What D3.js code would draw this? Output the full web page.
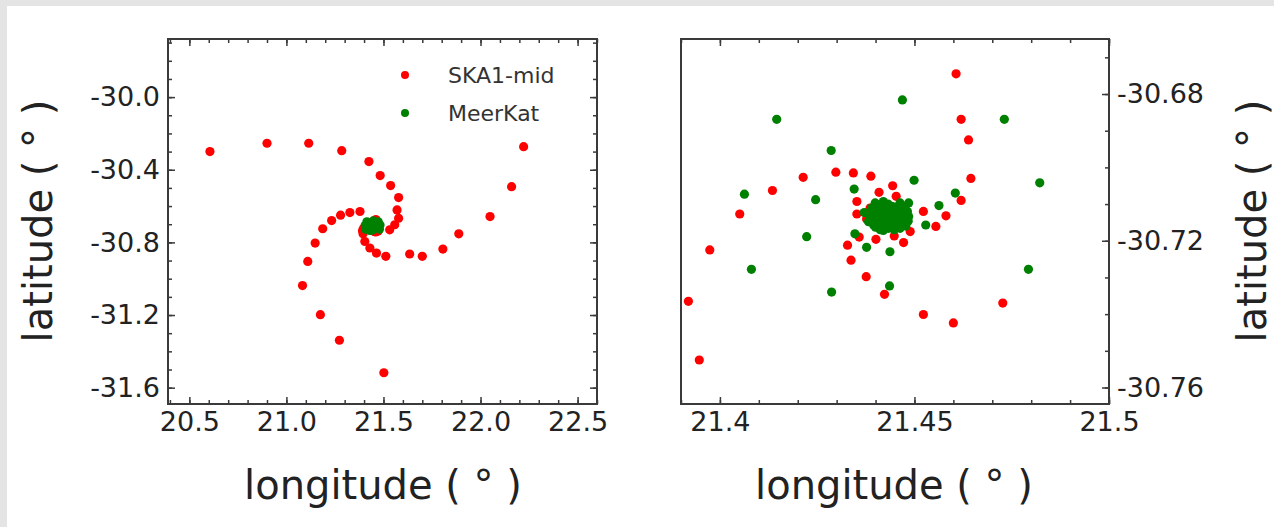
<!DOCTYPE html>
<meta charset="utf-8">
<head>
<script src="https://d3js.org/d3.v7.min.js"></script>
<style>
body { margin: 0; background: #e4e4e4; }
svg { display: block; }
text { font-family: "DejaVu Sans", sans-serif; fill: #222; }
.tick text { font-size: 27px; }
.axlabel { font-size: 40px; }
.legend text { font-size: 22px; fill: #333; }
.frame { fill: none; stroke: #3a3a3a; stroke-width: 2px; }
.tick line { stroke: #3a3a3a; stroke-width: 1.5px; }
</style>
</head>
<body>
<svg id="chart"></svg>
<script>
// SKA1-mid spiral arms (outside the zoom window) [lon, lat]
var skaArms = [
  [20.606, -30.300], [20.900, -30.254], [21.115, -30.254], [21.285, -30.295],
  [21.425, -30.355], [21.483, -30.432], [21.537, -30.487], [21.578, -30.553],
  [21.570, -30.621], [21.578, -30.667], [21.558, -30.703], [21.532, -30.731],
  [21.379, -30.630], [21.327, -30.636], [21.279, -30.650], [21.233, -30.680],
  [21.187, -30.725], [21.148, -30.804], [21.110, -30.905], [21.083, -31.038],
  [21.175, -31.198], [21.273, -31.339], [21.502, -31.518],
  [21.404, -30.795], [21.430, -30.831], [21.464, -30.859], [21.512, -30.877],
  [21.635, -30.864], [21.700, -30.877], [21.806, -30.837], [21.888, -30.753],
  [22.049, -30.658], [22.160, -30.493], [22.222, -30.273]
];

// SKA1-mid dishes in the core region
var skaCore = [
  [21.4607, -30.6745], [21.4620, -30.6869], [21.4639, -30.6925], [21.4645, -30.7030],
  [21.4620, -30.7090], [21.4727, -30.7370], [21.4600, -30.7424], [21.4523, -30.7401],
  [21.4423, -30.7346], [21.4376, -30.7298], [21.4337, -30.7253], [21.4328, -30.7212],
  [21.4358, -30.7190], [21.4401, -30.7196], [21.4448, -30.7187], [21.4472, -30.7205],
  [21.4489, -30.7175], [21.4523, -30.7120], [21.4555, -30.7161], [21.4581, -30.7132],
  [21.4388, -30.7024], [21.4343, -30.7015], [21.4298, -30.7013], [21.4214, -30.7027],
  [21.4135, -30.7063], [21.4051, -30.7127], [21.3974, -30.7225], [21.3919, -30.7365],
  [21.3947, -30.7525], [21.4444, -30.7050], [21.4453, -30.7079], [21.4409, -30.7068],
  [21.4352, -30.7093], [21.4352, -30.7127], [21.4377, -30.7141],
  [21.4386, -30.7111], [21.4429, -30.7116], [21.4463, -30.7152]
];

// MeerKAT outer dishes
var meerOuter = [
  [21.4469, -30.6816], [21.4146, -30.6869], [21.4731, -30.6869], [21.4286, -30.6954],
  [21.4499, -30.7035], [21.4822, -30.7042], [21.4063, -30.7073], [21.4246, -30.7088],
  [21.4345, -30.7059], [21.4605, -30.7070], [21.4563, -30.7104], [21.4485, -30.7097],
  [21.4529, -30.7157], [21.4347, -30.7181], [21.4223, -30.7189], [21.4377, -30.7218],
  [21.4437, -30.7230], [21.4081, -30.7278], [21.4793, -30.7278], [21.4436, -30.7323],
  [21.4287, -30.7340], [21.4371, -30.7123]
];

// MeerKAT dense core
var meerCore = [
  [21.4399, -30.7097], [21.4420, -30.7093], [21.4442, -30.7106], [21.4463, -30.7116],
  [21.4476, -30.7129], [21.4472, -30.7152], [21.4455, -30.7161], [21.4433, -30.7166],
  [21.4412, -30.7170], [21.4395, -30.7157], [21.4386, -30.7134], [21.4407, -30.7120],
  [21.4429, -30.7134], [21.4450, -30.7138], [21.4420, -30.7148], [21.4463, -30.7097],
  [21.4403, -30.7148], [21.4442, -30.7152], [21.4472, -30.7138], [21.4390, -30.7111],
  [21.4425, -30.7111], [21.4455, -30.7125], [21.4412, -30.7134], [21.4437, -30.7120],
  [21.4485, -30.7134], [21.4463, -30.7166], [21.4425, -30.7161], [21.4382, -30.7148],
  [21.4410, -30.7103], [21.4432, -30.7100], [21.4452, -30.7108], [21.4470, -30.7108],
  [21.4482, -30.7120], [21.4484, -30.7146], [21.4478, -30.7160], [21.4448, -30.7170],
  [21.4420, -30.7172], [21.4400, -30.7163], [21.4390, -30.7143], [21.4396, -30.7124],
  [21.4416, -30.7126], [21.4440, -30.7128], [21.4460, -30.7130], [21.4430, -30.7143],
  [21.4452, -30.7150], [21.4405, -30.7140], [21.4466, -30.7142], [21.4438, -30.7158],
  [21.4418, -30.7158], [21.4446, -30.7116]
];

var seriesNames = ["SKA1-mid", "MeerKat"];
var seriesColors = ["#ff0000", "#008000"];

// tick labels
var leftXTicks = [20.5, 21.0, 21.5, 22.0, 22.5];
var leftYTicks = [-30.0, -30.4, -30.8, -31.2, -31.6];
var rightXTicks = [21.4, 21.45, 21.5];
var rightYTicks = [-30.68, -30.72, -30.76];

var W = 1274, H = 527;
var svg = d3.select("#chart").attr("width", W).attr("height", H);

// white plot area inside the grey border
svg.append("rect").attr("x", 7).attr("y", 6).attr("width", W - 7).attr("height", H - 6)
  .attr("fill", "#fff");

var plotTop = 39, plotBottom = 404;
var r = 4.6;

// ---- left panel ----
var xL = d3.scaleLinear().domain([20.39, 22.6]).range([168, 597]);
var yL = d3.scaleLinear().domain([-29.68, -31.69]).range([plotTop, plotBottom]);

// ---- right panel ----
var xR = d3.scaleLinear().domain([21.39, 21.5]).range([681, 1109]);
var yR = d3.scaleLinear().domain([-30.665, -30.7645]).range([plotTop, plotBottom]);

function drawPoints(g, x, y, data, color) {
  g.selectAll(null).data(data).enter().append("circle")
    .attr("cx", function(d) { return x(d[0]); })
    .attr("cy", function(d) { return y(d[1]); })
    .attr("r", r)
    .attr("fill", color);
}

function minorAxis(axisFn, scale, vals, pos, g) {
  g.append("g")
    .attr("transform", pos)
    .call(axisFn(scale).tickValues(vals).tickSize(-4).tickFormat(""))
    .call(function(a) { a.select(".domain").remove(); });
}

function majorAxis(axisFn, scale, vals, pos, g, fmt, show) {
  var a = g.append("g")
    .attr("transform", pos)
    .call(axisFn(scale).tickValues(vals).tickSize(-7).tickPadding(8)
      .tickFormat(show ? fmt : ""));
  a.select(".domain").remove();
  return a;
}

// plain hyphen for the minus sign, like the original figure
var hyph = function(s) { return s.replace("\u2212", "-"); };
var fmt1 = function(d) { return hyph(d3.format(".1f")(d)); };
var fmt2 = function(d) { return hyph(d3.format(".2f")(d)); };
var fmtR = function(d) { return d3.format(".2f")(d).replace(/0$/, ""); };

function frameAxes(g, x, y, xt, yt, xmin, ymin, xf, yf, yside, leftTicks) {
  var x0 = x.range()[0], x1 = x.range()[1];
  // bottom & top
  minorAxis(d3.axisBottom, x, xmin, "translate(0," + plotBottom + ")", g);
  majorAxis(d3.axisBottom, x, xt, "translate(0," + plotBottom + ")", g, xf, true);
  minorAxis(d3.axisTop, x, xmin, "translate(0," + plotTop + ")", g);
  majorAxis(d3.axisTop, x, xt, "translate(0," + plotTop + ")", g, xf, false);
  // left & right
  if (leftTicks) {
    minorAxis(d3.axisLeft, y, ymin, "translate(" + x0 + ",0)", g);
    majorAxis(d3.axisLeft, y, yt, "translate(" + x0 + ",0)", g, yf, yside === "left");
  }
  minorAxis(d3.axisRight, y, ymin, "translate(" + x1 + ",0)", g);
  majorAxis(d3.axisRight, y, yt, "translate(" + x1 + ",0)", g, yf, yside === "right");
  g.append("rect").attr("class", "frame")
    .attr("x", x0).attr("y", plotTop).attr("width", x1 - x0).attr("height", plotBottom - plotTop);
}

// left panel points
var gL = svg.append("g");
drawPoints(gL, xL, yL, skaArms, seriesColors[0]);
drawPoints(gL, xL, yL, skaCore, seriesColors[0]);
drawPoints(gL, xL, yL, meerOuter, seriesColors[1]);
drawPoints(gL, xL, yL, meerCore, seriesColors[1]);

frameAxes(gL, xL, yL, leftXTicks, leftYTicks,
  d3.range(20.4, 22.61, 0.1), d3.range(-29.7, -31.69, -0.1), fmt1, fmt1, "left", true);

// legend
var leg = gL.append("g").attr("class", "legend");
seriesNames.forEach(function(name, i) {
  leg.append("circle").attr("cx", 405).attr("cy", 75 + i * 38).attr("r", 4)
    .attr("fill", seriesColors[i]);
  leg.append("text").attr("x", 448).attr("y", 75 + i * 38).attr("dy", "0.36em").text(name);
});

// right panel points (clipped)
svg.append("clipPath").attr("id", "clipR").append("rect")
  .attr("x", 681).attr("y", plotTop).attr("width", 428).attr("height", plotBottom - plotTop);
var gR = svg.append("g");
var gRp = gR.append("g").attr("clip-path", "url(#clipR)");
drawPoints(gRp, xR, yR, skaArms, seriesColors[0]);
drawPoints(gRp, xR, yR, skaCore, seriesColors[0]);
drawPoints(gRp, xR, yR, meerOuter, seriesColors[1]);
drawPoints(gRp, xR, yR, meerCore, seriesColors[1]);

frameAxes(gR, xR, yR, rightXTicks, rightYTicks,
  d3.range(21.39, 21.501, 0.01), d3.range(-30.67, -30.765, -0.01), fmtR, fmt2, "right", false);

// axis labels
svg.append("text").attr("class", "axlabel").attr("text-anchor", "middle")
  .attr("x", 383).attr("y", 499).text("longitude ( ° )");
svg.append("text").attr("class", "axlabel").attr("text-anchor", "middle")
  .attr("x", 894).attr("y", 499).text("longitude ( ° )");
svg.append("text").attr("class", "axlabel").attr("text-anchor", "middle")
  .attr("transform", "translate(52,221) rotate(-90)").text("latitude ( ° )");
svg.append("text").attr("class", "axlabel").attr("text-anchor", "middle")
  .attr("transform", "translate(1266,221) rotate(-90)").text("latitude ( ° )");
</script>
</body>
